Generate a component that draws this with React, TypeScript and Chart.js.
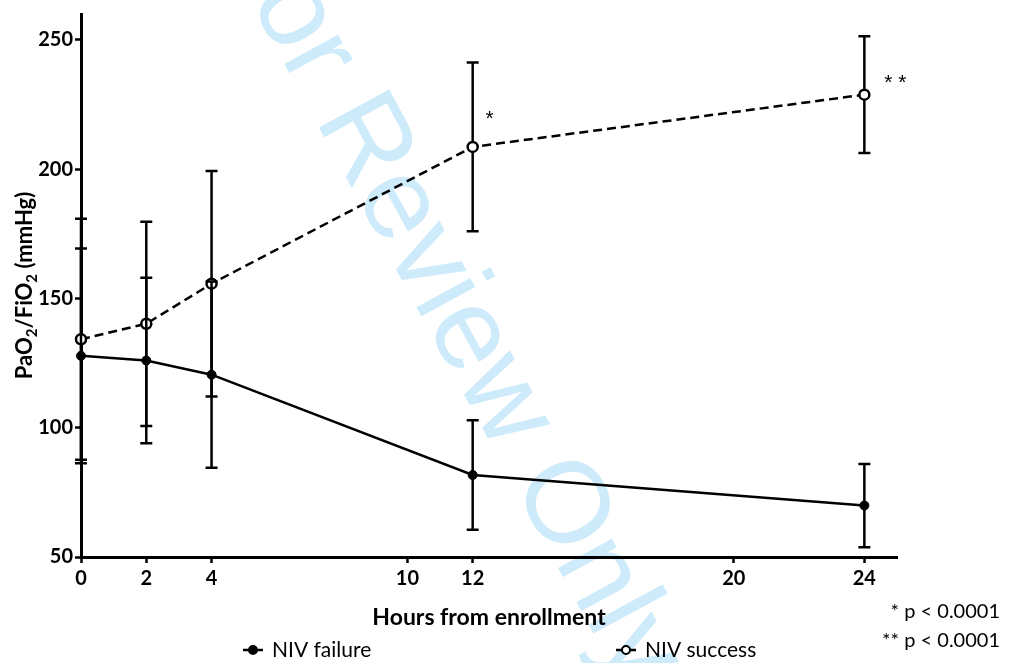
import React, { useEffect, useRef } from 'react';
import { Chart, registerables } from 'chart.js';

Chart.register(...registerables);

const hours = [0, 2, 4, 12, 24];
const failureMean = [127.8, 126, 120.5, 81.7, 69.9];
const failureSD = [41.5, 32, 36, 21.2, 16.1];
const successMean = [134.2, 140.2, 155.7, 208.6, 228.8];
const successSD = [46.6, 39.5, 43.6, 32.6, 22.6];
const xTickValues = [0, 2, 4, 10, 12, 20, 24];
const yTickValues = [50, 100, 150, 200, 250];
const seriesLabels = ['NIV failure', 'NIV success'];
const pointMarks = ['', '', '', '*', '**'];
const sigNotes = ['* p < 0.0001', '** p < 0.0001'];
const xTitle = 'Hours from enrollment';
const watermark = 'For Review Only';

const means = [failureMean, successMean];
const sds = [failureSD, successSD];

const watermarkPlugin = {
  id: 'watermark',
  beforeDraw(chart: any) {
    const ctx = chart.ctx;
    ctx.save();
    ctx.translate(216, -62);
    ctx.rotate((61.5 * Math.PI) / 180);
    ctx.font = '116px "Liberation Sans", Arial, sans-serif';
    ctx.fillStyle = '#cdebfa';
    ctx.textBaseline = 'alphabetic';
    ctx.textAlign = 'left';
    ctx.fillText(watermark, 0, 0);
    ctx.restore();
  },
};

const errorBarPlugin = {
  id: 'errorBars',
  beforeDatasetDraw(chart: any, args: any) {
    const idx = args.index;
    const m = means[idx];
    const s = sds[idx];
    if (!m) return;
    const { ctx } = chart;
    const xs = chart.scales.x;
    const ys = chart.scales.y;
    ctx.save();
    ctx.strokeStyle = '#000';
    ctx.lineWidth = 2.5;
    ctx.lineCap = 'butt';
    hours.forEach((h, i) => {
      const px = xs.getPixelForValue(h);
      const top = ys.getPixelForValue(m[i] + s[i]);
      const bot = ys.getPixelForValue(m[i] - s[i]);
      ctx.beginPath();
      ctx.moveTo(px, top);
      ctx.lineTo(px, bot);
      ctx.moveTo(px - 6, top);
      ctx.lineTo(px + 6, top);
      ctx.moveTo(px - 6, bot);
      ctx.lineTo(px + 6, bot);
      ctx.stroke();
    });
    ctx.restore();
  },
};

const textPlugin = {
  id: 'texts',
  afterDraw(chart: any) {
    const { ctx, chartArea } = chart;
    const xs = chart.scales.x;
    const ys = chart.scales.y;
    ctx.save();
    ctx.fillStyle = '#000';

    // Y axis title with subscripts
    const parts = [
      { t: 'PaO', sub: false },
      { t: '2', sub: true },
      { t: '/FiO', sub: false },
      { t: '2', sub: true },
      { t: ' (mmHg)', sub: false },
    ];
    const mainFont = 'bold 22px Lato, sans-serif';
    const subFont = 'bold 15px Lato, sans-serif';
    let total = 0;
    parts.forEach((p) => {
      ctx.font = p.sub ? subFont : mainFont;
      total += ctx.measureText(p.t).width;
    });
    ctx.save();
    ctx.translate(32, (chartArea.top + chartArea.bottom) / 2);
    ctx.rotate(-Math.PI / 2);
    ctx.textBaseline = 'alphabetic';
    ctx.textAlign = 'left';
    let cx = -total / 2;
    parts.forEach((p) => {
      ctx.font = p.sub ? subFont : mainFont;
      ctx.fillText(p.t, cx, p.sub ? 5 : 0);
      cx += ctx.measureText(p.t).width;
    });
    ctx.restore();

    // X axis title
    ctx.font = 'bold 23px Lato, sans-serif';
    ctx.textAlign = 'center';
    ctx.textBaseline = 'alphabetic';
    ctx.fillText(xTitle, (chartArea.left + chartArea.right) / 2, 625);

    // significance marks near points
    ctx.font = '21px "Liberation Sans", Arial, sans-serif';
    ctx.textAlign = 'center';
    pointMarks.forEach((mk, i) => {
      if (!mk) return;
      const px = xs.getPixelForValue(hours[i]);
      const py = ys.getPixelForValue(successMean[i]);
      if (mk === '*') ctx.fillText(mk, px + 17, py - 21.5);
      else ctx.fillText('* *', px + 31, py - 5.5);
    });

    // significance notes
    ctx.font = '20px Lato, sans-serif';
    ctx.textAlign = 'right';
    ctx.fillText(sigNotes[0], 1000, 618);
    ctx.fillText(sigNotes[1], 1000, 647);

    // legend
    const legendItems = [
      { x: 253, fill: '#000', label: seriesLabels[0] },
      { x: 626, fill: '#fff', label: seriesLabels[1] },
    ];
    legendItems.forEach((it) => {
      const ly = 650;
      ctx.strokeStyle = '#000';
      ctx.lineWidth = 2.5;
      ctx.beginPath();
      ctx.moveTo(it.x - 10, ly);
      ctx.lineTo(it.x + 10, ly);
      ctx.stroke();
      ctx.beginPath();
      ctx.arc(it.x, ly, 4, 0, Math.PI * 2);
      ctx.fillStyle = it.fill;
      ctx.fill();
      ctx.lineWidth = 2;
      ctx.stroke();
      ctx.fillStyle = '#000';
      ctx.font = '21px Lato, sans-serif';
      ctx.textAlign = 'left';
      ctx.fillText(it.label, it.x + 19, 657);
    });
    ctx.restore();
  },
};

export default function App() {
  const ref = useRef<HTMLCanvasElement | null>(null);
  useEffect(() => {
    if (!ref.current) return;
    const chart = new Chart(ref.current, {
      type: 'line',
      data: {
        datasets: [
          {
            label: seriesLabels[0],
            data: hours.map((h, i) => ({ x: h, y: failureMean[i] })),
            borderColor: '#000',
            borderWidth: 2.5,
            pointRadius: 4.5,
            pointBackgroundColor: '#000',
            pointBorderColor: '#000',
            pointBorderWidth: 1,
            fill: false,
            tension: 0,
            clip: false,
          },
          {
            label: seriesLabels[1],
            data: hours.map((h, i) => ({ x: h, y: successMean[i] })),
            borderColor: '#000',
            borderWidth: 2.5,
            borderDash: [9, 5],
            pointRadius: 5,
            pointBackgroundColor: '#fff',
            pointBorderColor: '#000',
            pointBorderWidth: 2.5,
            fill: false,
            tension: 0,
            clip: false,
          },
        ],
      } as any,
      options: {
        responsive: false,
        animation: false,
        layout: { padding: { left: 0, top: 13, right: 118, bottom: 66 } },
        plugins: {
          legend: { display: false },
          tooltip: { enabled: false },
        },
        scales: {
          x: {
            type: 'linear',
            min: 0,
            max: 25,
            afterBuildTicks: (s: any) => {
              s.ticks = xTickValues.map((v) => ({ value: v }));
            },
            afterFit: (s: any) => {
              s.height = 40;
            },
            grid: {
              drawOnChartArea: false,
              drawTicks: true,
              tickLength: 6,
              tickWidth: 2.5,
              tickColor: '#000',
              color: '#000',
            },
            border: { display: true, color: '#000', width: 3 },
            ticks: {
              color: '#000',
              font: { family: 'Lato', weight: 'bold', size: 20 },
              padding: 4,
              autoSkip: false,
              maxRotation: 0,
              callback: (v: any) => String(v),
            },
          },
          y: {
            type: 'linear',
            min: 50,
            max: 260,
            afterBuildTicks: (s: any) => {
              s.ticks = yTickValues.map((v) => ({ value: v }));
            },
            afterFit: (s: any) => {
              s.width = 81;
            },
            grid: {
              drawOnChartArea: false,
              drawTicks: true,
              tickLength: 6,
              tickWidth: 2.5,
              tickColor: '#000',
              color: '#000',
            },
            border: { display: true, color: '#000', width: 3 },
            ticks: {
              color: '#000',
              font: { family: 'Lato', weight: 'bold', size: 20 },
              padding: 2,
              callback: (v: any) => String(v),
            },
          },
        },
      } as any,
      plugins: [watermarkPlugin, errorBarPlugin, textPlugin],
    });
    return () => chart.destroy();
  }, []);
  return (
    <div style={{ position: 'absolute', left: 0, top: 0, width: 1015, height: 663, background: '#fff' }}>
      <canvas ref={ref} width={1015} height={663} style={{ display: 'block' }} />
    </div>
  );
}
